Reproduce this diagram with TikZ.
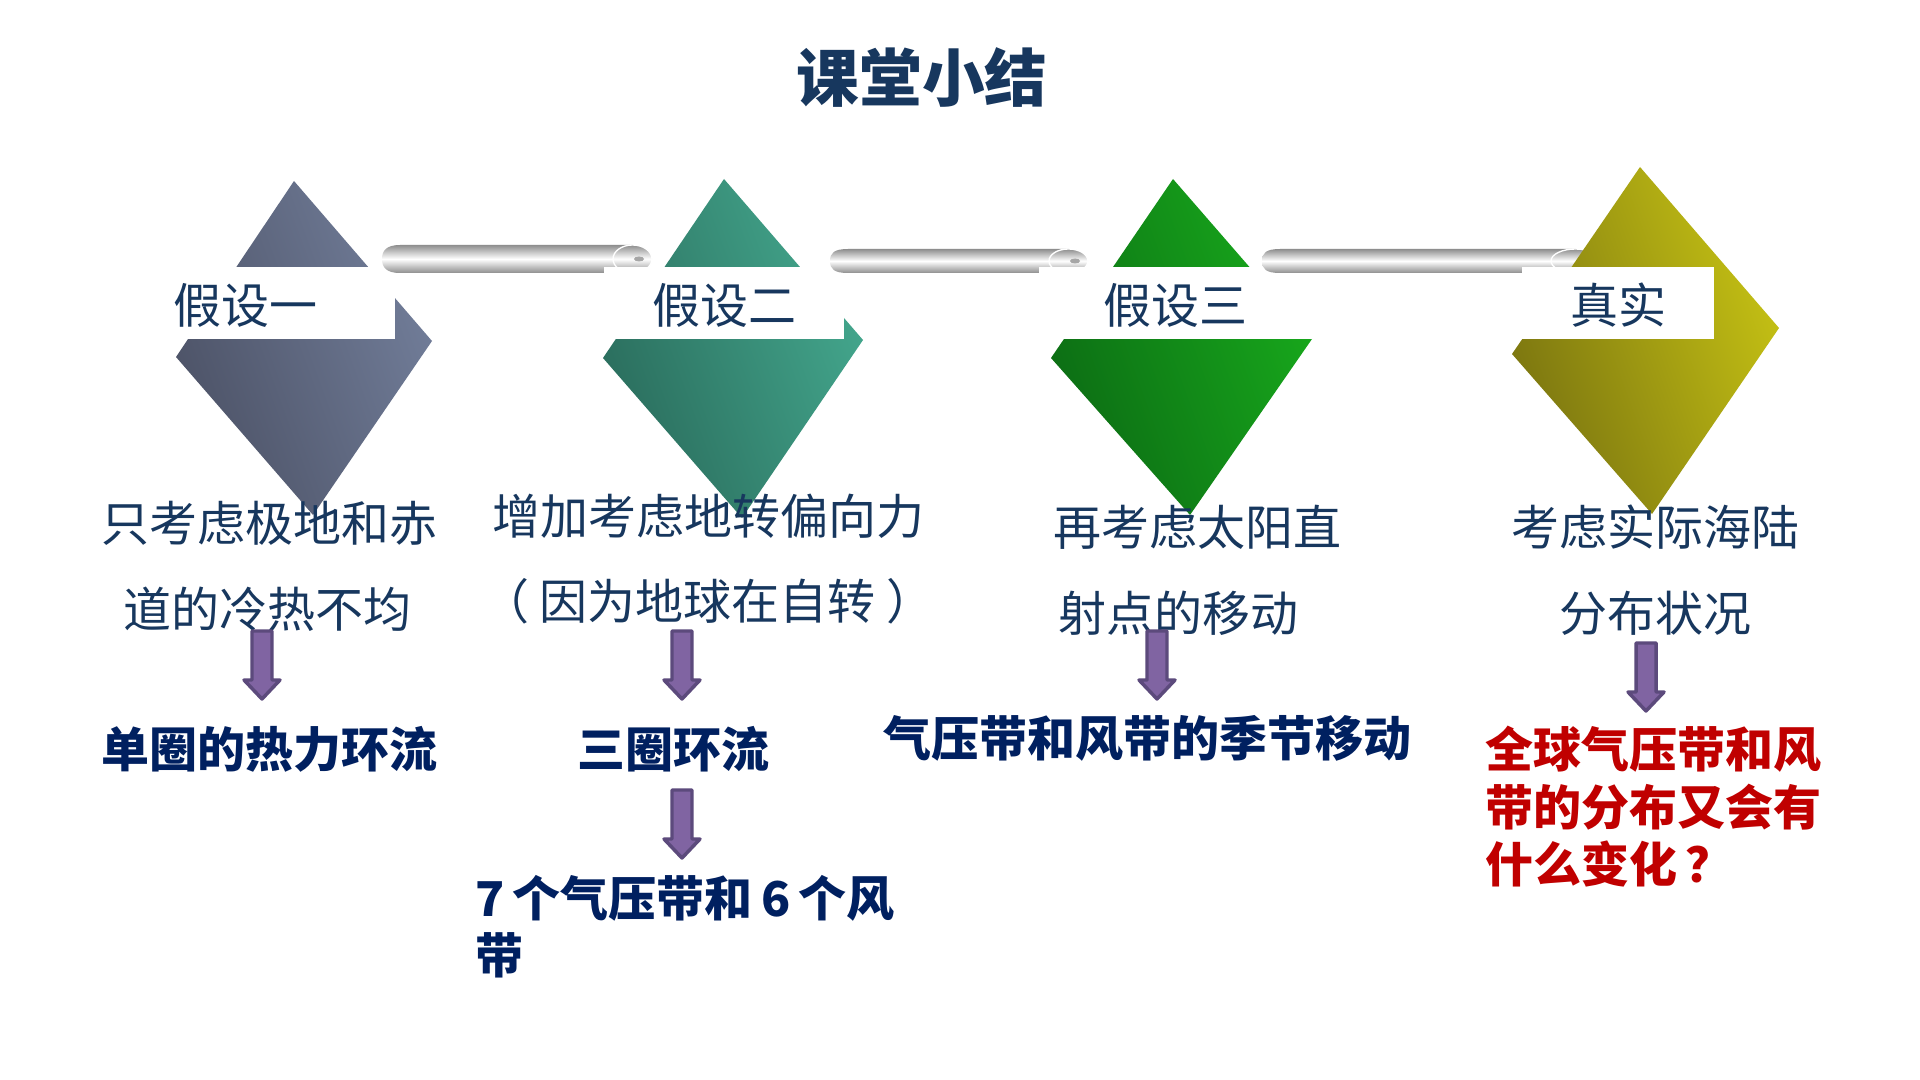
\documentclass[tikz,border=0pt]{standalone}
\usepackage{fontspec}
\setmainfont{Noto Sans CJK SC}
\definecolor{serifink}{HTML}{17375E}
\definecolor{boldnavy}{HTML}{002060}
\definecolor{alertred}{HTML}{C00000}
\definecolor{arrowfill}{HTML}{8064A2}
\definecolor{arrowline}{HTML}{5C4A7C}
\definecolor{tubeedge}{HTML}{8E8E8E}
\definecolor{slatedark}{RGB}{76,82,102}
\definecolor{slatelight}{RGB}{114,126,154}
\definecolor{tealdark}{RGB}{42,108,92}
\definecolor{teallight}{RGB}{68,168,142}
\definecolor{greendark}{RGB}{12,108,20}
\definecolor{greenlight}{RGB}{24,170,28}
\definecolor{olivedark}{RGB}{122,116,16}
\definecolor{olivelight}{RGB}{198,194,20}
\tikzset{
  body/.style={font=\fontsize{36pt}{36pt}\selectfont,text=serifink,inner sep=0pt,text height=31.7pt,text depth=4.3pt},
  strong/.style={body,font=\fontsize{36pt}{36pt}\selectfont\bfseries,text=boldnavy},
  alert/.style={strong,text=alertred,anchor=west},
  heading/.style={body,font=\fontsize{47pt}{47pt}\selectfont\bfseries,text height=41.4pt,text depth=5.6pt},
  downarrow/.pic={
    \draw[fill=arrowfill,draw=arrowline,line width=2.6pt,line join=round]
      (-10,2) -- (10,2) -- (10,51) -- (18,51) -- (0,70) -- (-18,51) -- (-10,51) -- cycle;
  }
}
% Silver tube: left end, top edge, left of the tip ellipse, tip, height
\newcommand{\silvertube}[5]{%
  \pgfmathsetmacro{\tubebot}{#2+#5}
  \pgfmathsetmacro{\tubemid}{#2+#5/2}
  \pgfmathsetmacro{\tubery}{#5/2}
  \pgfmathsetmacro{\tiprx}{(#4-#3)/2}
  \pgfmathsetmacro{\tipcx}{(#4+#3)/2}
  \pgfmathsetmacro{\bodystart}{#1+18}
  \pgfmathsetmacro{\dotx}{#4-13}
  \shade[top color=tubeedge,bottom color=tubeedge,middle color=white]
    (\bodystart,#2) -- (\tipcx,#2) -- (\tipcx,\tubebot) -- (\bodystart,\tubebot)
    .. controls (#1+4,\tubebot) and (#1,\tubemid+8) .. (#1,\tubemid)
    .. controls (#1,\tubemid-8) and (#1+4,#2) .. (\bodystart,#2) -- cycle;
  \shade[top color=tubeedge,bottom color=tubeedge,middle color=white,draw=white,line width=1pt]
    (\tipcx,\tubemid) ellipse [x radius=\tiprx,y radius=\tubery];
  \fill[gray!70] (\dotx,\tubemid) ellipse [x radius=5,y radius=2.5];
}
\begin{document}
\begin{tikzpicture}[x=0.75pt,y=-0.75pt]
\useasboundingbox (0,0) rectangle (1920,1080);
\fill[white] (0,0) rectangle (1920,1080);

\node[heading] (title) at (922,78) {课堂小结};

% First column
\shade[bottom color=slatedark,top color=slatelight,shading angle=-70]
  (294,181) -- (432,341) -- (313,515) -- (176,357) -- cycle;
\fill[white] (170,267) rectangle (395,339);
\silvertube{382}{245}{613}{652}{28}

% Second column
\shade[bottom color=tealdark,top color=teallight,shading angle=-70]
  (724,179) -- (863,340) -- (742,518) -- (603,358) -- cycle;
\fill[white] (604,267) rectangle (844,339);
\silvertube{830}{249}{1049}{1088}{24}

% Third column
\shade[bottom color=greendark,top color=greenlight,shading angle=-70]
  (1173,179) -- (1312,339) -- (1190,515) -- (1051,358) -- cycle;
\fill[white] (1039,267) rectangle (1312,339);
\silvertube{1262}{249}{1551}{1600}{24}

% Fourth column
\shade[bottom color=olivedark,top color=olivelight,shading angle=-70]
  (1640,167) -- (1779,328) -- (1652,514) -- (1512,354) -- cycle;
\fill[white] (1522,267) rectangle (1714,339);

% Column headings
\node[body] (h1) at (245,305) {假设一};
\node[body] (h2) at (724,305) {假设二};
\node[body] (h3) at (1175,305) {假设三};
\node[body] (h4) at (1618,305) {真实};

% Descriptions
\node[body] (d1a) at (269,523) {只考虑极地和赤};
\node[body] (d1b) at (267,609) {道的冷热不均};
\node[body] (d2a) at (708,516) {增加考虑地转偏向力};
\node[body] (d2b) at (708,601) {（\hspace{8pt}因为地球在自转\hspace{8pt}）};
\node[body] (d3a) at (1197,527) {再考虑太阳直};
\node[body] (d3b) at (1178,613) {射点的移动};
\node[body] (d4a) at (1655,527) {考虑实际海陆};
\node[body] (d4b) at (1655,613) {分布状况};

% Block arrows
\pic at (262,629) {downarrow};
\pic at (682,629) {downarrow};
\pic at (682,788) {downarrow};
\pic at (1157,629) {downarrow};
\pic at (1646,641) {downarrow};

% Outcomes
\node[strong] (r1) at (269,749) {单圈的热力环流};
\node[strong] (r2) at (673,749) {三圈环流};
\node[strong,anchor=west] (r2a) at (475,898) {7\hspace{6.3pt}个气压带和\hspace{6.3pt}6\hspace{6.3pt}个风};
\node[strong,anchor=west] (r2b) at (475,955) {带};
\node[strong] (r3) at (1147,738) {气压带和风带的季节移动};
\node[alert] (r4a) at (1485,749) {全球气压带和风};
\node[alert] (r4b) at (1485,807) {带的分布又会有};
\node[alert] (r4c) at (1485,864) {什么变化\hspace{6.4pt}？};
\end{tikzpicture}
\end{document}
